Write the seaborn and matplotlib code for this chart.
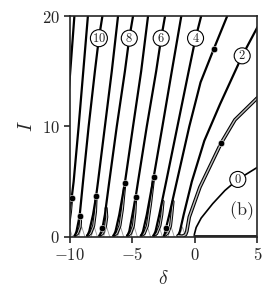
import numpy as np
import pandas as pd
import matplotlib
matplotlib.use("Agg")
import matplotlib.pyplot as plt
import seaborn as sns

sns.set_style("ticks")
plt.rcParams["font.family"] = ["DejaVu Serif"]
plt.rcParams["mathtext.fontset"] = "cm"
plt.rcParams["font.size"] = 12

# solid branches (delta values, I values), read from bottom fold to top edge
branches = {
    12: ([-10.3, -9.97, -9.64], [10.0, 15.0, 20.0]),
    11: ([-10.6, -10.45, -10.1, -9.86, -9.7, -9.3, -8.93, -8.56], [0.1, 0.5, 2.0, 3.5, 5.0, 10.0, 15.0, 20.0]),
    10: ([-9.6, -9.47, -9.22, -8.95, -8.5, -8.0, -7.68, -7.4], [0.1, 0.5, 1.9, 5.0, 10.0, 15.0, 18.0, 20.0]),
    9: ([-8.6, -8.45, -8.15, -7.9, -7.75, -7.2, -6.65, -6.15], [0.1, 0.5, 2.0, 3.7, 5.0, 10.0, 15.0, 20.0]),
    8: ([-7.62, -7.4, -7.2, -6.85, -6.25, -5.6, -5.25, -4.95], [0.1, 0.76, 2.0, 5.0, 10.0, 15.0, 18.0, 20.0]),
    7: ([-6.5, -6.35, -6.05, -5.6, -4.95, -4.3, -3.75], [0.1, 0.5, 2.0, 4.9, 10.0, 15.0, 20.0]),
    6: ([-5.4, -5.25, -5.0, -4.74, -4.55, -3.85, -3.1, -2.7, -2.39], [0.1, 0.5, 2.0, 3.6, 5.0, 10.0, 15.0, 18.0, 20.0]),
    5: ([-4.3, -4.15, -3.85, -3.3, -2.6, -1.85, -1.09], [0.1, 0.5, 2.0, 5.4, 10.0, 15.0, 20.0]),
    4: ([-3.3, -3.15, -2.85, -2.3, -1.4, -0.5, 0.05, 0.5], [0.1, 0.5, 2.0, 5.0, 10.0, 15.0, 18.0, 20.0]),
    3: ([-2.45, -2.32, -2.05, -1.45, -0.45, 0.45, 1.5, 2.58], [0.1, 0.76, 2.0, 5.0, 10.0, 14.0, 17.0, 20.0]),
    2: ([-1.35, -1.2, -0.9, -0.25, 0.75, 2.0, 3.78, 5.0], [0.1, 0.5, 2.0, 5.0, 8.7, 12.0, 16.4, 19.0]),
}

# unstable arm on the right side of each fold (double grey line), ends where it meets the branch
arms = {
    11: ([-10.6, -10.35, -10.1, -9.95, -9.86], [0.1, 0.3, 1.0, 2.3, 3.5]),
    10: ([-9.6, -9.38, -9.18, -9.15, -9.22], [0.1, 0.3, 0.9, 1.4, 1.9]),
    9: ([-8.6, -8.35, -8.1, -7.95, -7.9], [0.1, 0.3, 1.0, 2.3, 3.7]),
    8: ([-7.62, -7.38, -7.15, -7.05, -7.1], [0.1, 0.3, 1.0, 1.8, 2.6]),
    7: ([-6.5, -6.25, -6.0, -5.8, -5.6], [0.1, 0.3, 1.0, 2.5, 4.9]),
    6: ([-5.4, -5.15, -4.92, -4.8, -4.74], [0.1, 0.3, 1.0, 2.2, 3.6]),
    5: ([-4.3, -4.05, -3.8, -3.55, -3.3], [0.1, 0.3, 1.0, 3.0, 5.4]),
    4: ([-3.3, -3.05, -2.8, -2.65, -2.55], [0.1, 0.3, 1.0, 2.0, 3.2]),
    3: ([-2.45, -2.2, -1.95, -1.85, -1.75], [0.1, 0.3, 1.0, 2.0, 3.2]),
}

# faint grey marks between neighbouring folds
tent_c = [-10.05, -9.05, -8.05, -7.06, -5.95, -4.85, -3.8, -2.85, -1.9, -1.0]

# branch 1 (double line) and branch 0
b1_d = [-1.35, -1.0, -0.75, -0.65, -0.45, 0.4, 2.1, 3.2, 5.0]
b1_I = [0.1, 0.05, 0.2, 0.5, 1.8, 4.5, 8.5, 10.6, 12.6]
b0_d = [-0.05, 0.1, 0.5, 1.42, 2.4, 3.43, 5.0]
b0_I = [0.2, 0.85, 1.7, 3.0, 4.2, 5.2, 6.3]

# marked points
dot_d = [-9.86, -9.22, -7.9, -7.4, -5.6, -4.74, -3.3, -2.32, 2.1, 1.5]
dot_I = [3.5, 1.9, 3.7, 0.76, 4.9, 3.6, 5.4, 0.76, 8.5, 17.0]

# circled labels
lab_txt = ["10", "8", "6", "4", "2", "0"]
lab_d = [-7.68, -5.25, -2.7, 0.05, 3.78, 3.43]
lab_I = [18.0, 18.0, 18.0, 18.0, 16.4, 5.2]

fig = plt.figure(figsize=(2.73, 3.04), dpi=100)
ax = fig.add_axes([0.256, 0.221, 0.687, 0.726])

for c in tent_c:
    sns.lineplot(x=[c - 0.25, c, c + 0.25], y=[0.0, 0.9, 0.0], sort=False, estimator=None,
                 color="0.6", lw=0.6, ax=ax)

for n, (d, I) in arms.items():
    sns.lineplot(x=d, y=I, sort=False, estimator=None, color="k", lw=2.2, ax=ax)
    sns.lineplot(x=d, y=I, sort=False, estimator=None, color="0.75", lw=0.8, ax=ax)

for n, (d, I) in branches.items():
    sns.lineplot(x=d, y=I, sort=False, estimator=None, color="k", lw=1.6, ax=ax)

sns.lineplot(x=b1_d, y=b1_I, sort=False, estimator=None, color="k", lw=2.6, ax=ax)
sns.lineplot(x=b1_d, y=b1_I, sort=False, estimator=None, color="0.75", lw=1.0, ax=ax)
sns.lineplot(x=b0_d, y=b0_I, sort=False, estimator=None, color="k", lw=1.2, ax=ax)
sns.lineplot(x=[-0.05, 5], y=[0.1, 0.1], color="k", lw=1.2, ax=ax)

sns.scatterplot(x=dot_d, y=dot_I, color="k", s=22, ax=ax, zorder=5)

for t, x, y in zip(lab_txt, lab_d, lab_I):
    ax.text(x, y, "$" + t + "$", ha="center", va="center", fontsize=9, zorder=6,
            bbox=dict(boxstyle="circle,pad=0.12", fc="white", ec="k", lw=0.8))

ax.text(3.72, 2.4, r"$\mathrm{(b)}$", ha="center", va="center", fontsize=13)

ax.set_xlim(-10, 5)
ax.set_ylim(0, 20)
ax.set_xticks([-10, -5, 0, 5])
ax.set_xticklabels(["$-10$", "$-5$", "$0$", "$5$"])
ax.set_yticks([0, 10, 20])
ax.set_yticklabels(["$0$", "$10$", "$20$"])
ax.tick_params(direction="out", length=4, width=1.2, labelsize=12)
for s in ax.spines.values():
    s.set_linewidth(1.2)
ax.set_xlabel(r"$\delta$", fontsize=14)
ax.set_ylabel(r"$I$", fontsize=14)

fig.savefig("out.png", dpi=100)
